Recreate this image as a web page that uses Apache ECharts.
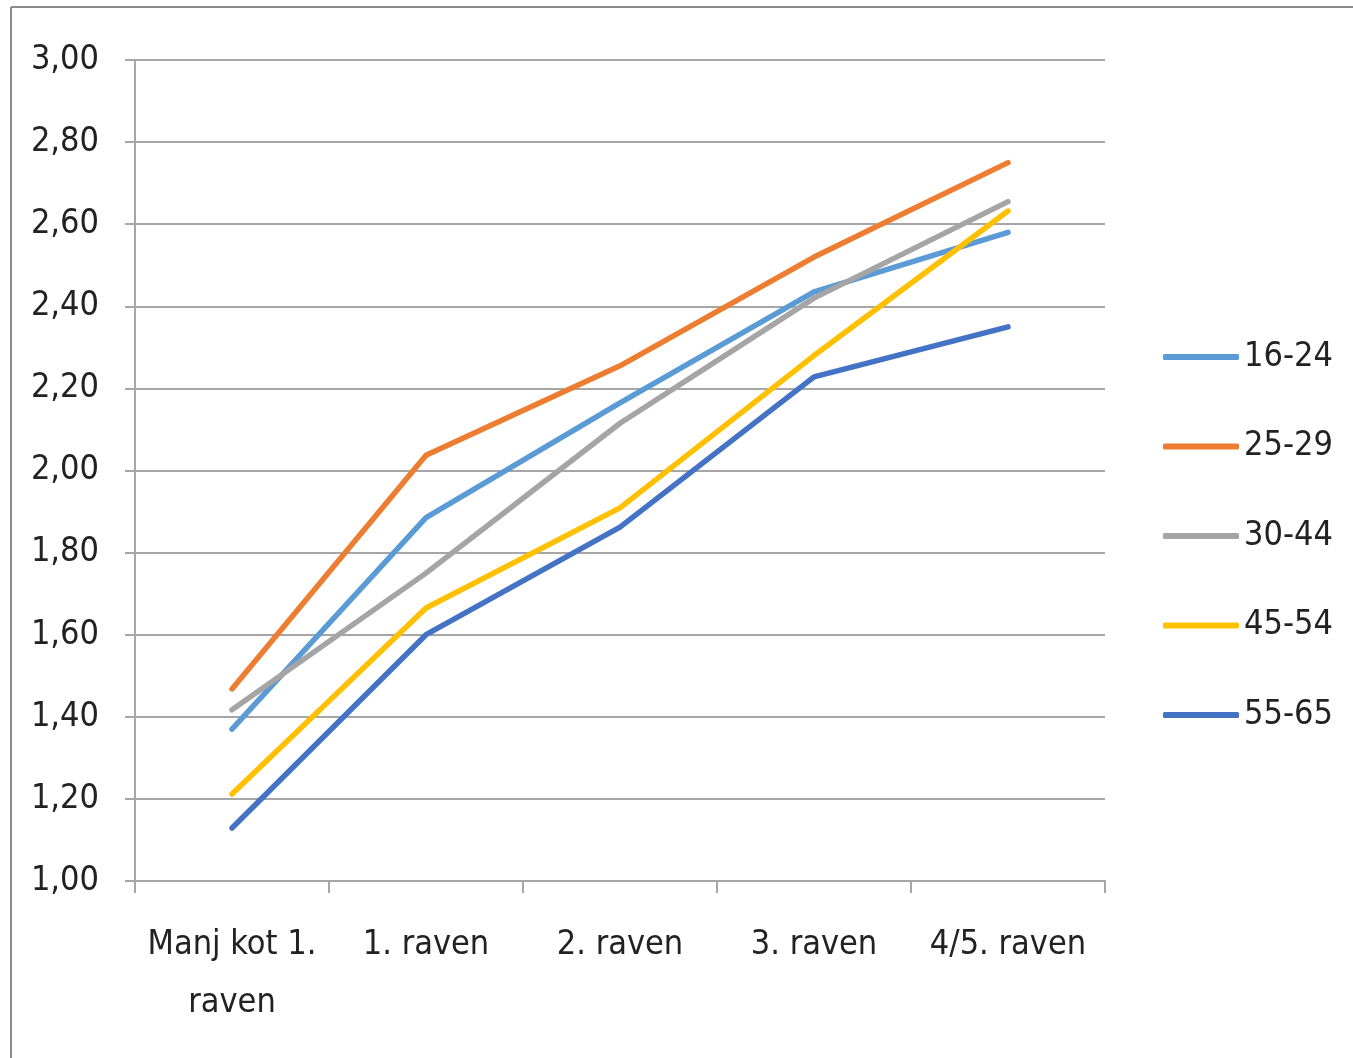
<!DOCTYPE html>
<html>
<head>
<meta charset="utf-8">
<script src="https://cdn.jsdelivr.net/npm/echarts@6/dist/echarts.min.js"></script>
<style>
html,body{margin:0;padding:0;background:#fff;}
#chart{width:1353px;height:1058px;}
</style>
</head>
<body>
<div id="chart"></div>
<script>
var categories = ['Manj kot 1.\nraven', '1. raven', '2. raven', '3. raven', '4/5. raven'];
var seriesNames = ['16-24', '25-29', '30-44', '45-54', '55-65'];
var s1624 = [1.37, 1.885, 2.165, 2.435, 2.58];
var s2529 = [1.468, 2.037, 2.255, 2.52, 2.75];
var s3044 = [1.417, 1.75, 2.115, 2.42, 2.655];
var s4554 = [1.212, 1.665, 1.909, 2.28, 2.632];
var s5565 = [1.129, 1.6, 1.862, 2.228, 2.35];
var colors = ['#5B9BD5', '#ED7D31', '#A5A5A5', '#FFC000', '#4472C4'];
var yTicks = {min: 1, max: 3, interval: 0.2};

var FONT = '"DejaVu Sans Condensed", "Liberation Sans Narrow", sans-serif';
var allData = [s1624, s2529, s3044, s4554, s5565];
var chart = echarts.init(document.getElementById('chart'));
chart.setOption({
  animation: false,
  color: colors,
  graphic: [
    {type: 'line', shape: {x1: 11, y1: 7, x2: 1353, y2: 7}, style: {stroke: '#8c8c8c', lineWidth: 2}, silent: true},
    {type: 'line', shape: {x1: 11, y1: 7, x2: 11, y2: 1058}, style: {stroke: '#8c8c8c', lineWidth: 2}, silent: true}
  ],
  grid: {left: 135, top: 60, right: 248, bottom: 177, containLabel: false},
  legend: {
    orient: 'vertical',
    left: 1163,
    top: 337,
    padding: 0,
    itemWidth: 76,
    itemHeight: 6,
    itemGap: 49.5,
    icon: 'roundRect',
    data: seriesNames,
    textStyle: {fontFamily: FONT, fontSize: 34, color: '#222', lineHeight: 40, padding: [0, 0, 0, 0]}
  },
  xAxis: {
    type: 'category',
    data: categories,
    boundaryGap: true,
    axisLine: {show: true, lineStyle: {color: '#a6a6a6', width: 2}},
    axisTick: {show: true, length: 12, interval: 0, lineStyle: {color: '#a6a6a6', width: 2}},
    axisLabel: {interval: 0, margin: 35, fontFamily: FONT, fontSize: 34, color: '#222', lineHeight: 58}
  },
  yAxis: {
    type: 'value',
    min: yTicks.min,
    max: yTicks.max,
    interval: yTicks.interval,
    axisLine: {show: true, lineStyle: {color: '#a6a6a6', width: 2}},
    axisTick: {show: true, length: 10, lineStyle: {color: '#a6a6a6', width: 2}},
    splitLine: {show: true, lineStyle: {color: '#a6a6a6', width: 2}},
    axisLabel: {
      margin: 36, fontFamily: FONT, fontSize: 34, color: '#222',
      formatter: function (v) { return v.toFixed(2).replace('.', ','); }
    }
  },
  series: seriesNames.map(function (n, i) {
    return {
      name: n,
      type: 'line',
      data: allData[i],
      symbol: 'none',
      lineStyle: {width: 5.5, color: colors[i], cap: 'round'},
      itemStyle: {color: colors[i]}
    };
  })
});
</script>
</body>
</html>
